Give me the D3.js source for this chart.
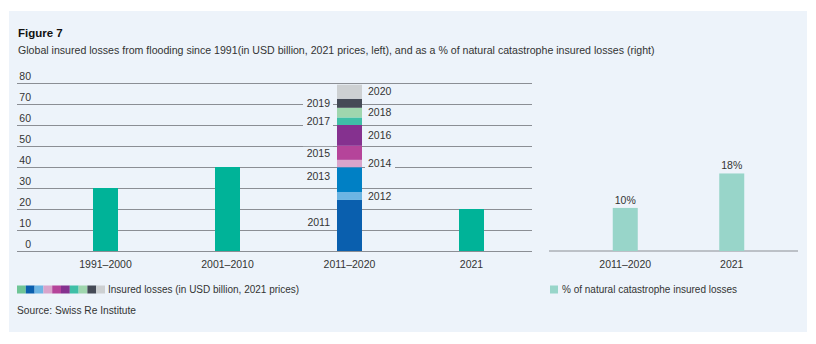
<!DOCTYPE html>
<html>
<head>
<meta charset="utf-8">
<script src="https://cdn.jsdelivr.net/npm/d3@7"></script>
<style>
  body { margin: 0; background: #fff; }
  text { font-family: "Liberation Sans", Arial, sans-serif; fill: #333; }
</style>
</head>
<body>
<div id="chart"></div>
<script>
// insured losses by period, USD bn (2021 prices)
const periods = ["1991–2000", "2001–2010", "2011–2020", "2021"];
const periodLosses = [30, 40, null, 20];

// 2011–2020 broken down by year
const years = ["2011", "2012", "2013", "2014", "2015", "2016", "2017", "2018", "2019", "2020"];
const yearLosses = [24.3, 3.8, 11.8, 3.5, 6.7, 9.9, 3.6, 4.6, 4.3, 6.7];

// share of natcat insured losses, %
const shareCats = ["2011–2020", "2021"];
const shareValues = [10, 18];

const yTicks = [0, 10, 20, 30, 40, 50, 60, 70, 80];

const yearColors = ["#0a5fae", "#6db5e3", "#0080c5", "#d9a4cb", "#b5449a", "#85318f",
                    "#3fbfa7", "#9fd6ae", "#454a56", "#cdd0d2"];
const legendColors = ["#6fc596", "#0a5fae", "#6db5e3", "#d9a4cb", "#b5449a", "#85318f",
                      "#3fbfa7", "#9fd6ae", "#454a56", "#cdd0d2"];
const teal = "#00b398", lightTeal = "#98d5c9", panel = "#edf3fa", grid = "#8b8e94";

const width = 816, height = 344;

const svg = d3.select("#chart")
  .append("svg")
    .attr("width", width)
    .attr("height", height);

svg.append("rect")
  .attr("x", 9).attr("y", 11)
  .attr("width", 798).attr("height", 321)
  .attr("fill", panel);

svg.append("text")
  .attr("x", 18).attr("y", 37)
  .style("font-size", "11.5px").style("font-weight", "bold").style("fill", "#111")
  .text("Figure 7");
svg.append("text")
  .attr("x", 18).attr("y", 54)
  .style("font-size", "10.6px")
  .text("Global insured losses from flooding since 1991(in USD billion, 2021 prices, left), and as a % of natural catastrophe insured losses (right)");

// ---- left chart ----
const y = d3.scaleLinear().domain([0, 80]).range([251, 83]);
const x = d3.scaleBand().domain(periods).range([44.5, 532.5]);
const barW = 25;

// gridlines
svg.append("g")
  .attr("transform", "translate(17,0)")
  .call(d3.axisLeft(y).tickValues(yTicks).tickSize(-515).tickFormat(""))
  .call(g => g.select(".domain").remove())
  .call(g => g.selectAll(".tick line").attr("stroke", grid).attr("stroke-width", 1));

// tick labels sit above their gridline
svg.append("g")
  .attr("transform", "translate(31,0)")
  .call(d3.axisLeft(y).tickValues(yTicks).tickSize(0).tickPadding(0))
  .call(g => g.select(".domain").remove())
  .call(g => g.selectAll(".tick text")
    .attr("dy", "-4px")
    .style("font-size", "10.5px")
    .style("font-family", "Liberation Sans, Arial, sans-serif")
    .attr("fill", "#444"));

svg.append("g")
  .selectAll("rect")
  .data(periods.map((p, i) => ({p, v: periodLosses[i]})).filter(d => d.v !== null))
  .join("rect")
    .attr("x", d => x(d.p) + x.bandwidth() / 2 - barW / 2)
    .attr("y", d => y(d.v))
    .attr("width", barW)
    .attr("height", d => y(0) - y(d.v))
    .attr("fill", teal);

// stacked 2011–2020 bar
let acc = 0;
const stack = years.map((yr, i) => {
  const d = {yr, y0: acc, y1: acc + yearLosses[i], i};
  acc += yearLosses[i];
  return d;
});
const sx = x("2011–2020") + x.bandwidth() / 2 - barW / 2;

svg.append("g")
  .selectAll("rect")
  .data(stack)
  .join("rect")
    .attr("x", sx)
    .attr("y", d => y(d.y1))
    .attr("width", barW)
    .attr("height", d => y(d.y0) - y(d.y1))
    .attr("fill", d => yearColors[d.i]);

// year labels alternate left / right of the stack, knocking out the gridlines
const lbl = svg.append("g")
  .selectAll("g")
  .data(stack)
  .join("g")
    .attr("transform", d => {
      const cy = y((d.y0 + d.y1) / 2) - (d.i === 0 || d.i === 2 ? 3 : 0);
      return d.i % 2 === 0 ? `translate(${sx - 7},${cy})` : `translate(${sx + barW + 6},${cy})`;
    });
lbl.append("rect")
  .attr("x", d => d.i % 2 === 0 ? -27 : -3)
  .attr("y", -6)
  .attr("width", 30)
  .attr("height", 12)
  .attr("fill", panel);
lbl.append("text")
  .attr("text-anchor", d => d.i % 2 === 0 ? "end" : "start")
  .attr("dy", "0.35em")
  .style("font-size", "10.5px")
  .text(d => d.yr);

svg.append("g")
  .attr("transform", "translate(0,251)")
  .call(d3.axisBottom(x).tickSize(0).tickPadding(10))
  .call(g => g.select(".domain").remove())
  .call(g => g.selectAll(".tick text")
    .style("font-size", "10.5px")
    .style("font-family", "Liberation Sans, Arial, sans-serif")
    .attr("fill", "#333"));

// ---- right chart ----
const y2 = d3.scaleLinear().domain([0, 39]).range([251, 83]);
const x2 = d3.scaleBand().domain(shareCats).range([572, 785]);

svg.append("line")
  .attr("x1", 549).attr("x2", 798)
  .attr("y1", y2(0)).attr("y2", y2(0))
  .attr("stroke", grid);

svg.append("g")
  .selectAll("rect")
  .data(shareCats.map((c, i) => ({c, v: shareValues[i]})))
  .join("rect")
    .attr("x", d => x2(d.c) + x2.bandwidth() / 2 - barW / 2)
    .attr("y", d => y2(d.v))
    .attr("width", barW)
    .attr("height", d => y2(0) - y2(d.v))
    .attr("fill", lightTeal);

svg.append("g")
  .selectAll("text")
  .data(shareCats.map((c, i) => ({c, v: shareValues[i]})))
  .join("text")
    .attr("x", d => x2(d.c) + x2.bandwidth() / 2)
    .attr("y", d => y2(d.v) - 4)
    .attr("text-anchor", "middle")
    .style("font-size", "10.5px")
    .text(d => d.v + "%");

svg.append("g")
  .attr("transform", "translate(0,251)")
  .call(d3.axisBottom(x2).tickSize(0).tickPadding(10))
  .call(g => g.select(".domain").remove())
  .call(g => g.selectAll(".tick text")
    .style("font-size", "10.5px")
    .style("font-family", "Liberation Sans, Arial, sans-serif")
    .attr("fill", "#333"));

// ---- legends ----
svg.append("g")
  .selectAll("rect")
  .data(legendColors)
  .join("rect")
    .attr("x", (d, i) => 17 + i * 8.8)
    .attr("y", 285.5)
    .attr("width", 8.8)
    .attr("height", 8)
    .attr("fill", d => d);
svg.append("text")
  .attr("x", 108).attr("y", 293)
  .style("font-size", "10px")
  .text("Insured losses (in USD billion, 2021 prices)");

svg.append("rect")
  .attr("x", 550).attr("y", 285.5)
  .attr("width", 8).attr("height", 8)
  .attr("fill", lightTeal);
svg.append("text")
  .attr("x", 562).attr("y", 293)
  .style("font-size", "10px")
  .text("% of natural catastrophe insured losses");

svg.append("text")
  .attr("x", 17).attr("y", 314)
  .style("font-size", "10.2px")
  .text("Source: Swiss Re Institute");
</script>
</body>
</html>
